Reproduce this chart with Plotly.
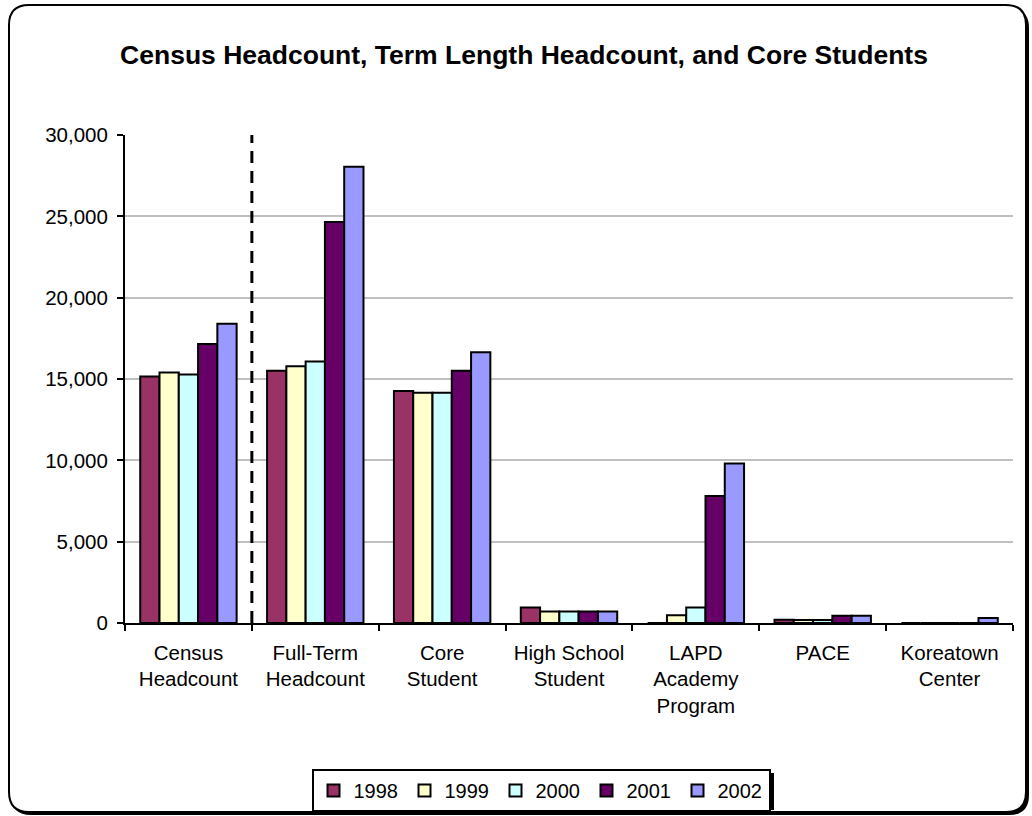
import plotly.graph_objects as go

categories = ["Census<br>Headcount", "Full-Term<br>Headcount", "Core<br>Student",
              "High School<br>Student", "LAPD<br>Academy<br>Program", "PACE",
              "Koreatown<br>Center"]
years = ["1998", "1999", "2000", "2001", "2002"]
v1998 = [15150, 15500, 14260, 950, 0, 200, 0]
v1999 = [15400, 15780, 14150, 700, 480, 180, 0]
v2000 = [15280, 16080, 14150, 700, 950, 180, 0]
v2001 = [17150, 24650, 15500, 700, 7800, 450, 0]
v2002 = [18400, 28050, 16650, 700, 9800, 450, 300]
colors = ["#993366", "#FFFFCC", "#CCFFFF", "#660066", "#9999FF"]
yticks = [0, 5000, 10000, 15000, 20000, 25000, 30000]

W, H = 1032, 816
L, R, T, B = 125, 1013, 135, 623
FONT = "Arial, Liberation Sans, sans-serif"


def px(x):
    return (x - L) / (R - L)


def py(y):
    return (B - y) / (B - T)


def rounded(x0, y0, x1, y1, r):
    # rounded rectangle path in paper coords, pixel inputs
    pts = [
        f"M{px(x0 + r)},{py(y0)}",
        f"L{px(x1 - r)},{py(y0)}",
        f"Q{px(x1)},{py(y0)} {px(x1)},{py(y0 + r)}",
        f"L{px(x1)},{py(y1 - r)}",
        f"Q{px(x1)},{py(y1)} {px(x1 - r)},{py(y1)}",
        f"L{px(x0 + r)},{py(y1)}",
        f"Q{px(x0)},{py(y1)} {px(x0)},{py(y1 - r)}",
        f"L{px(x0)},{py(y0 + r)}",
        f"Q{px(x0)},{py(y0)} {px(x0 + r)},{py(y0)}",
        "Z",
    ]
    return " ".join(pts)


fig = go.Figure()
for yr, vals, c in zip(years, [v1998, v1999, v2000, v2001, v2002], colors):
    fig.add_trace(go.Bar(x=categories, y=vals, name=yr, marker_color=c,
                         marker_line=dict(color="black", width=2)))

shapes = [
    dict(type="path", xref="paper", yref="paper", layer="below",
         path=rounded(11, 8, 1029, 815, 20), fillcolor="black", line=dict(width=0)),
    dict(type="path", xref="paper", yref="paper", layer="below",
         path=rounded(9, 5, 1026, 812, 20), fillcolor="white",
         line=dict(color="black", width=2)),
    # legend shadow
    dict(type="rect", xref="paper", yref="paper", layer="below",
         x0=px(317), x1=px(774), y0=py(773), y1=py(810),
         fillcolor="black", line=dict(width=0)),
    # dashed separator
    dict(type="line", xref="x", yref="paper", x0=0.5, x1=0.5, y0=0, y1=1,
         line=dict(color="black", width=3, dash="12px,8px")),
]

fig.update_layout(
    width=W, height=H,
    margin=dict(l=L, r=W - R, t=T, b=H - B, autoexpand=False),
    paper_bgcolor="white", plot_bgcolor="rgba(0,0,0,0)",
    font=dict(family=FONT, size=20, color="black"),
    title=dict(text="<b>Census Headcount, Term Length Headcount, and Core Students</b>",
               x=524 / W, xanchor="center", y=1 - 55 / H, yanchor="middle",
               font=dict(size=26.5)),
    barmode="group", bargap=0.24, bargroupgap=0,
    shapes=shapes,
    showlegend=True,
    legend=dict(orientation="h", x=px(541), xanchor="center", y=py(769), yanchor="top",
                bgcolor="white", bordercolor="black", borderwidth=2,
                font=dict(size=20), entrywidth=46, itemwidth=30,
                traceorder="normal"),
    xaxis=dict(showline=True, linecolor="black", linewidth=2, ticks="outside",
               tickson="boundaries", ticklen=6, tickwidth=2, tickcolor="black",
               showgrid=False, tickfont=dict(size=20.5), ticklabelstandoff=10),
    yaxis=dict(range=[0, 30000], tickvals=yticks, tickformat=",d",
               showline=True, linecolor="black", linewidth=2, ticks="outside",
               ticklen=6, tickwidth=2, tickcolor="black",
               showgrid=True, gridcolor="#c0c0c0", gridwidth=1.5,
               zeroline=False, tickfont=dict(size=20.5), ticklabelstandoff=5),
)

fig.write_html("out.html", config={"displayModeBar": False},
               post_script="document.body.style.margin='0px';")
